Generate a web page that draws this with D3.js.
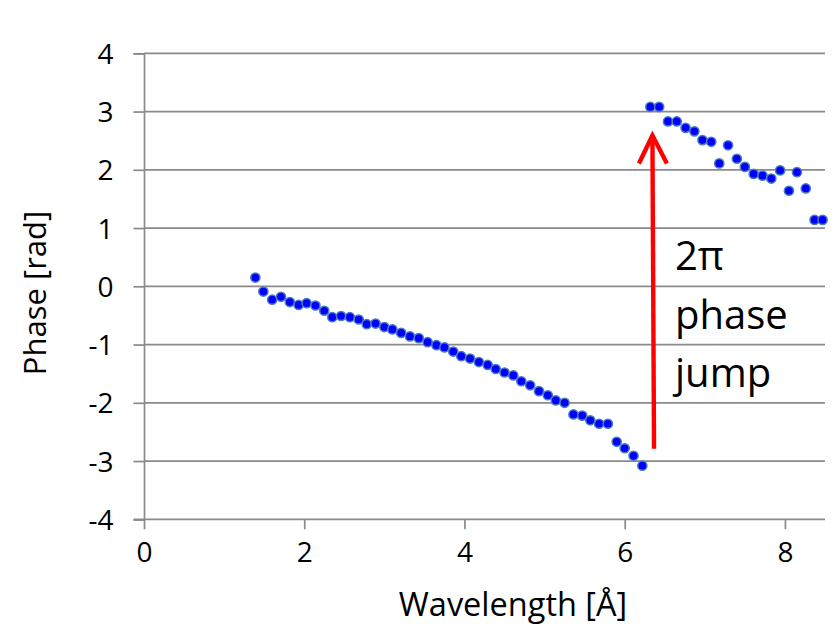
<!DOCTYPE html>
<html>
<head>
<meta charset="utf-8">
<script src="https://cdn.jsdelivr.net/npm/d3@7"></script>
<style>
  html, body { margin: 0; padding: 0; background: #fff; }
  svg { display: block; }
  text { font-family: "Open Sans", "Noto Sans", sans-serif; fill: #000; }
</style>
</head>
<body>
<svg id="chart" width="834" height="626"></svg>
<script>
// Wavelength [Å]
const wavelength = [
  1.39, 1.49, 1.60, 1.71, 1.82, 1.93, 2.03, 2.14, 2.25, 2.35,
  2.46, 2.57, 2.68, 2.78, 2.89, 3.00, 3.10, 3.21, 3.32, 3.43,
  3.54, 3.65, 3.75, 3.86, 3.96, 4.07, 4.18, 4.29, 4.39, 4.50,
  4.61, 4.71, 4.82, 4.93, 5.04, 5.14, 5.25, 5.36, 5.47, 5.57,
  5.68, 5.79, 5.90, 6.00, 6.11, 6.22,
  6.32, 6.43, 6.54, 6.65, 6.76, 6.87, 6.97, 7.08, 7.18, 7.29,
  7.40, 7.50, 7.61, 7.72, 7.83, 7.94, 8.05, 8.15, 8.26, 8.37, 8.47
];
// Phase [rad]
const phase = [
  0.15, -0.09, -0.23, -0.18, -0.27, -0.32, -0.29, -0.33, -0.42, -0.53,
  -0.51, -0.53, -0.57, -0.65, -0.64, -0.70, -0.74, -0.80, -0.86, -0.89,
  -0.96, -1.01, -1.05, -1.12, -1.20, -1.24, -1.30, -1.35, -1.42, -1.48,
  -1.53, -1.63, -1.70, -1.80, -1.87, -1.96, -2.00, -2.20, -2.22, -2.30,
  -2.36, -2.36, -2.67, -2.78, -2.91, -3.08,
  3.08, 3.08, 2.83, 2.83, 2.72, 2.66, 2.51, 2.48, 2.11, 2.42,
  2.19, 2.05, 1.93, 1.90, 1.85, 1.99, 1.64, 1.96, 1.68, 1.14, 1.14
];
const xTicks = [0, 2, 4, 6, 8];
const yTicks = [-4, -3, -2, -1, 0, 1, 2, 3, 4];
const xTitle = "Wavelength [Å]";
const yTitle = "Phase [rad]";
// annotation arrow (data coordinates: start -> tip)
const arrowX = [6.366, 6.346];
const arrowY = [-2.79, 2.59];
const noteLines = ["2π", "phase", "jump"];

const svg = d3.select("#chart");
const x = d3.scaleLinear().domain([0, 8.5]).range([144, 825]);
const y = d3.scaleLinear().domain([-4, 4]).range([519.3, 53.3]);
const gridColor = "#8a8a8a";
const fmt = d => String(d);

// horizontal gridlines
svg.append("g").selectAll("line")
  .data(yTicks.filter(d => d !== -4))
  .join("line")
  .attr("x1", x(0)).attr("x2", x(8.5))
  .attr("y1", d => y(d)).attr("y2", d => y(d))
  .attr("stroke", gridColor).attr("stroke-width", 1.7);

// y axis
const yAxis = svg.append("g")
  .attr("transform", `translate(${x(0)},0)`)
  .call(d3.axisLeft(y).tickValues(yTicks).tickSize(10.5).tickPadding(20).tickFormat(fmt));
yAxis.select(".domain").attr("stroke", gridColor).attr("stroke-width", 1.7);
yAxis.selectAll(".tick line").attr("stroke", gridColor).attr("stroke-width", 1.7);
yAxis.selectAll(".tick text")
  .attr("font-size", 28).attr("font-family", "Open Sans").attr("fill", "#000")
  .attr("dy", "0.36em");

// x axis
const xAxis = svg.append("g")
  .attr("transform", `translate(0,${y(-4)})`)
  .call(d3.axisBottom(x).tickValues(xTicks).tickSize(10).tickSizeOuter(0).tickPadding(13).tickFormat(fmt));
xAxis.select(".domain").attr("stroke", gridColor).attr("stroke-width", 1.7)
  .attr("d", `M${x(0) - 10},0H${x(8.5)}`);
xAxis.selectAll(".tick line").attr("stroke", gridColor).attr("stroke-width", 1.7);
xAxis.selectAll(".tick text")
  .attr("font-size", 28).attr("font-family", "Open Sans").attr("fill", "#000")
  .attr("dy", "0.71em");

// axis titles
svg.append("text")
  .attr("x", 513).attr("y", 616)
  .attr("text-anchor", "middle")
  .attr("font-size", 32.5)
  .text(xTitle);
svg.append("text")
  .attr("transform", `translate(46,293) rotate(-90)`)
  .attr("text-anchor", "middle")
  .attr("font-size", 31)
  .text(yTitle);

// points
const pts = wavelength.map((w, i) => ({ w, p: phase[i] }));
svg.append("g").selectAll("circle")
  .data(pts)
  .join("circle")
  .attr("cx", d => x(d.w))
  .attr("cy", d => y(d.p))
  .attr("r", 4.6)
  .attr("fill", "#0000ff")
  .attr("stroke", "#4a7ebb")
  .attr("stroke-width", 1.5);

// red arrow
const ax0 = x(arrowX[0]), ay0 = y(arrowY[0]);
const ax1 = x(arrowX[1]), ay1 = y(arrowY[1]);
svg.append("line")
  .attr("x1", ax0).attr("y1", ay0).attr("x2", ax1).attr("y2", ay1 + 2)
  .attr("stroke", "#ff0000").attr("stroke-width", 4.4);
svg.append("path")
  .attr("d", `M${ax1 - 13.5},${ay1 + 28} L${ax1},${ay1} L${ax1 + 14.5},${ay1 + 28}`)
  .attr("fill", "none").attr("stroke", "#ff0000").attr("stroke-width", 4.4)
  .attr("stroke-linejoin", "miter");

// annotation text
svg.append("g").selectAll("text")
  .data(noteLines)
  .join("text")
  .attr("x", 675)
  .attr("y", (d, i) => 270 + i * 58.5)
  .attr("font-size", 40)
  .text(d => d);
</script>
</body>
</html>
